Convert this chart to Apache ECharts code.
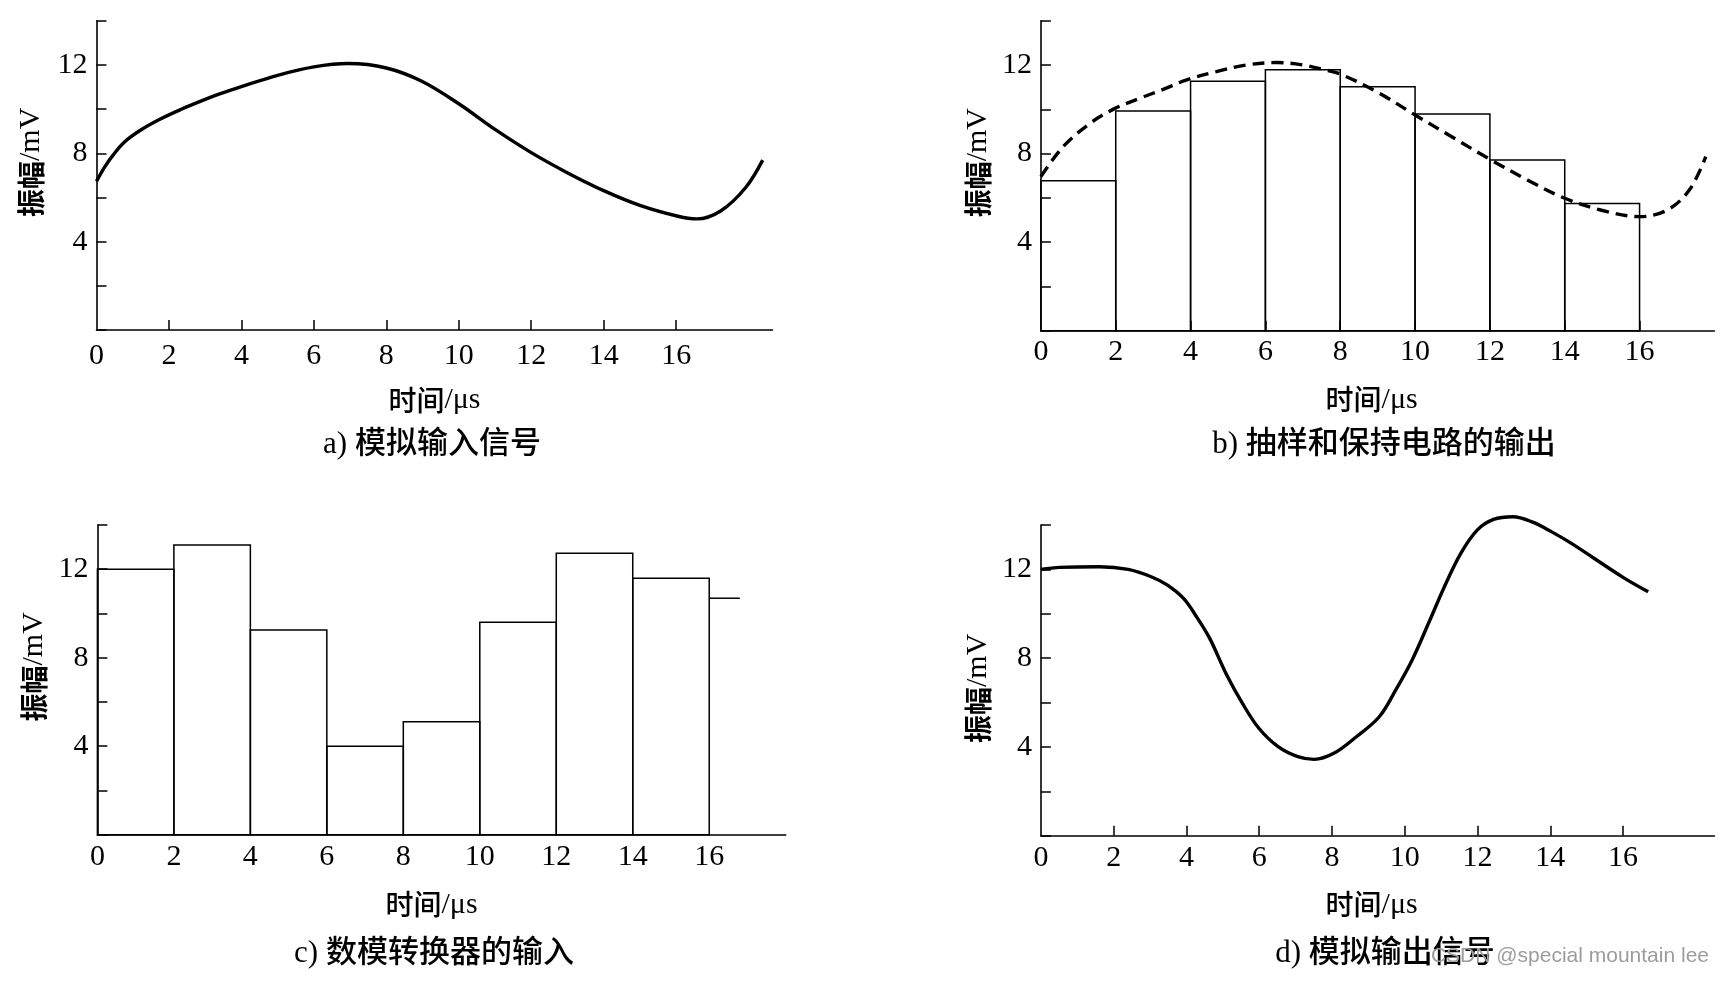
<!DOCTYPE html>
<html>
<head>
<meta charset="utf-8">
<title>采样与重建</title>
<script src="https://cdn.jsdelivr.net/npm/echarts@6/dist/echarts.min.js"></script>
<style>
  html, body { margin: 0; padding: 0; background: #fff; }
  #chart-box { width: 1723px; height: 985px; }
</style>
</head>
<body>
<div id="chart-box"></div>
<script>
// 刻度
var xTicks = [0, 2, 4, 6, 8, 10, 12, 14, 16];
var yTicks = [4, 8, 12];

// a) 模拟输入信号
var aTime = [0, 0.22, 0.44, 0.75, 1.21, 1.75, 2.34, 2.88, 3.42, 4, 5, 6, 6.95, 8, 8.98, 10, 11, 12, 13.02, 14, 15.02, 16.05, 16.57, 17.24, 17.92, 18.39];
var aAmp  = [6.73, 7.36, 7.88, 8.48, 9.04, 9.54, 9.99, 10.36, 10.7, 11.02, 11.53, 11.91, 12.06, 11.86, 11.26, 10.24, 9.08, 8.03, 7.1, 6.31, 5.63, 5.15, 5.03, 5.4, 6.45, 7.69];

// b) 抽样和保持电路的输出
var bTime = [0, 0.6, 1.31, 1.98, 2.65, 3.27, 3.9, 4.69, 5.49, 6.3, 7.01, 7.54, 8, 8.98, 10, 10.98, 12, 13, 14, 14.96, 16, 16.74, 17.33, 17.77];
var bAmp  = [6.96, 8.32, 9.36, 10.04, 10.5, 10.9, 11.33, 11.7, 12.0, 12.11, 12.0, 11.8, 11.59, 10.79, 9.74, 8.76, 7.74, 6.81, 5.98, 5.45, 5.15, 5.45, 6.35, 7.86];
var bEdges = [0, 2, 4, 6, 8, 10, 12, 14, 16];
var bHold  = [6.77, 9.92, 11.26, 11.79, 11.02, 9.79, 7.71, 5.75];

// c) 数模转换器的输入
var cEdges = [0, 2, 4, 6, 8, 10, 12, 14, 16, 16.8];
var cLevel = [12.0, 13.1, 9.25, 4.0, 5.11, 9.6, 12.72, 11.59, 10.69];

// d) 模拟输出信号
var dTime = [0, 0.52, 1.61, 2.4, 3.03, 3.48, 3.92, 4.28, 4.64, 5.09, 5.54, 5.99, 6.52, 7.06, 7.51, 8.05, 8.67, 9.3, 9.75, 10.2, 10.65, 11.09, 11.54, 11.99, 12.44, 12.97, 13.5, 14.04, 14.58, 16, 16.69];
var dAmp  = [12.0, 12.09, 12.12, 12.0, 11.67, 11.29, 10.69, 9.86, 8.89, 7.3, 5.96, 4.84, 4.01, 3.56, 3.44, 3.71, 4.46, 5.36, 6.56, 7.91, 9.56, 11.22, 12.72, 13.77, 14.25, 14.37, 14.14, 13.69, 13.17, 11.64, 10.99];

var SERIF = '"Liberation Serif", serif';
var CJK = '"Noto Sans CJK SC", sans-serif';
var FONT = '"Liberation Serif", "Noto Sans CJK SC", serif';

function pairs(xs, ys) {
    var out = [];
    for (var i = 0; i < xs.length; i++) out.push([xs[i], ys[i]]);
    return out;
}

function nameRich(size, weight) {
    return {
        c: { fontFamily: CJK, fontSize: size, fontWeight: weight, color: '#000' },
        l: { fontFamily: SERIF, fontSize: size + 2, color: '#000' }
    };
}

function xAxisOf(idx, max, opt) {
    return {
        type: 'value', gridIndex: idx, min: 0, max: max, interval: 2,
        name: '{c|时间}{l|/μs}', nameLocation: 'middle', nameGap: opt.nameGap,
        nameTextStyle: { padding: opt.namePad, rich: nameRich(28, 500) },
        axisLine: { lineStyle: { color: '#000', width: 1.6 } },
        axisTick: { show: opt.ticks, inside: true, length: 10, lineStyle: { color: '#000', width: 1.5 },
                    customValues: [2, 4, 6, 8, 10, 12, 14, 16] },
        axisLabel: { margin: opt.margin, fontFamily: SERIF, fontSize: 30, color: '#000',
                     customValues: xTicks,
                     formatter: function (v) { return xTicks.indexOf(v) >= 0 ? String(v) : ''; } },
        splitLine: { show: false }
    };
}

function yAxisOf(idx, opt) {
    return {
        type: 'value', gridIndex: idx, min: 0, max: 14, interval: 2,
        name: '{c|振幅}{l|/mV}', nameLocation: 'middle', nameGap: opt.nameGap,
        nameTextStyle: { padding: opt.namePad, rich: nameRich(28, 'bold') },
        axisLine: { lineStyle: { color: '#000', width: 1.6 } },
        axisTick: { inside: true, length: 10, lineStyle: { color: '#000', width: 1.5 } },
        axisLabel: { margin: 9, fontFamily: SERIF, fontSize: 30, color: '#000',
                     formatter: function (v) { return yTicks.indexOf(v) >= 0 ? String(v) : ''; } },
        splitLine: { show: false }
    };
}

function holdSeries(idx, edges, levels, openLast) {
    var data = [];
    for (var i = 0; i < levels.length; i++) data.push([edges[i], edges[i + 1], levels[i]]);
    return {
        type: 'custom', xAxisIndex: idx, yAxisIndex: idx, z: 2,
        encode: { x: [0, 1], y: 2 },
        data: data,
        renderItem: function (params, api) {
            var top = api.coord([api.value(0), api.value(2)]);
            var base = api.coord([api.value(1), 0]);
            if (openLast && params.dataIndex === levels.length - 1) {
                return { type: 'line', shape: { x1: top[0], y1: top[1], x2: base[0], y2: top[1] },
                         style: { stroke: '#000', lineWidth: 1.5 } };
            }
            return { type: 'rect',
                     shape: { x: top[0], y: top[1], width: base[0] - top[0], height: base[1] - top[1] },
                     style: { fill: 'none', stroke: '#000', lineWidth: 1.5 } };
        }
    };
}

function curveSeries(idx, xs, ys, dashed) {
    return {
        type: 'line', xAxisIndex: idx, yAxisIndex: idx, z: 3,
        data: pairs(xs, ys), smooth: 0.35, showSymbol: false, clip: false,
        lineStyle: { color: '#000', width: 3.4, type: dashed ? [12, 7] : 'solid' }
    };
}

function caption(text, x, y) {
    return { text: text, left: x, top: y, textAlign: 'center', padding: 0,
             textStyle: { fontFamily: FONT, fontSize: 31, fontWeight: 500, color: '#000' } };
}

var myChart = echarts.init(document.getElementById('chart-box'));

var option = {
    backgroundColor: '#fff',
    animation: false,
    title: [
        caption('a) 模拟输入信号', 432, 429),
        caption('b) 抽样和保持电路的输出', 1384, 429),
        caption('c) 数模转换器的输入', 434, 938),
        caption('d) 模拟输出信号', 1385, 938)
    ],
    grid: [
        { left: 96.5, top: 20.7, width: 676, height: 309.3 },
        { left: 1040.9, top: 20.7, width: 673.5, height: 310 },
        { left: 97.4, top: 525, width: 688.3, height: 309.7 },
        { left: 1040.9, top: 525, width: 673.5, height: 310.7 }
    ],
    xAxis: [
        xAxisOf(0, 18.66, { ticks: true, margin: 11, nameGap: 55, namePad: [0, 0, 0, 0] }),
        xAxisOf(1, 18, { ticks: true, margin: 6, nameGap: 54, namePad: [0, 12, 0, 0] }),
        xAxisOf(2, 18, { ticks: false, margin: 7, nameGap: 55, namePad: [0, 20, 0, 0] }),
        xAxisOf(3, 18.51, { ticks: true, margin: 7, nameGap: 54, namePad: [0, 12, 0, 0] })
    ],
    yAxis: [
        yAxisOf(0, { nameGap: 50, namePad: [0, 0, 0, 26] }),
        yAxisOf(1, { nameGap: 48, namePad: [0, 0, 0, 26] }),
        yAxisOf(2, { nameGap: 48, namePad: [0, 0, 0, 26] }),
        yAxisOf(3, { nameGap: 48, namePad: [0, 16, 0, 0] })
    ],
    series: [
        curveSeries(0, aTime, aAmp, false),
        holdSeries(1, bEdges, bHold, false),
        curveSeries(1, bTime, bAmp, true),
        holdSeries(2, cEdges, cLevel, true),
        curveSeries(3, dTime, dAmp, false)
    ],
    graphic: [{
        type: 'text', right: 14, top: 946, z: 100, zlevel: 1,
        style: { text: 'CSDN @special mountain lee', font: '21px "Liberation Sans", sans-serif', fill: '#9c9c9c' }
    }]
};

myChart.setOption(option);
</script>
</body>
</html>
